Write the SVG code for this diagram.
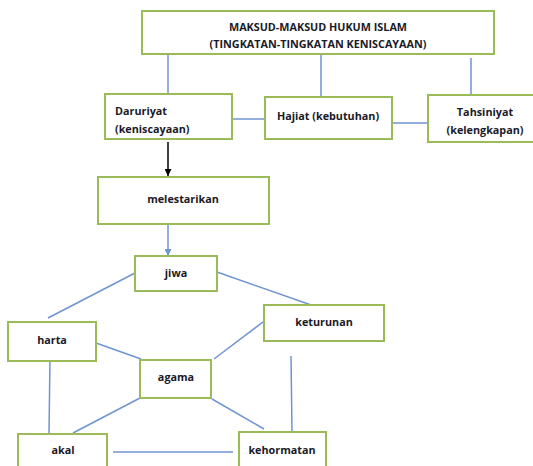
<svg xmlns="http://www.w3.org/2000/svg" width="533" height="466" viewBox="0 0 533 466">
  <defs>
    <style>
      .box { fill: #ffffff; stroke: #9bbb59; stroke-width: 2; }
      .lbl { font-family: "Open Sans", "Liberation Sans", sans-serif; font-size: 10.8px; font-weight: 700; fill: #1a1a28; }
      .mid { text-anchor: middle; }
      .link { stroke: #7094d2; stroke-width: 1.5; fill: none; }
      .down { stroke: #000000; stroke-width: 1.5; fill: none; }
    </style>
    <marker id="headBlack" viewBox="0 0 10 10" refX="10" refY="5" markerWidth="7" markerHeight="7" markerUnits="userSpaceOnUse" orient="auto">
      <path d="M0,0 L10,5 L0,10 Z" fill="#000000"/>
    </marker>
    <marker id="headBlue" viewBox="0 0 10 10" refX="10" refY="5" markerWidth="7" markerHeight="7" markerUnits="userSpaceOnUse" orient="auto">
      <path d="M0,0 L10,5 L0,10 Z" fill="#7094d2"/>
    </marker>
  </defs>
  <rect x="0" y="0" width="533" height="466" fill="#ffffff"/>

  <!-- connectors -->
  <g id="connectors">
    <line class="link" x1="168" y1="54" x2="168" y2="94"/>
    <line class="link" x1="321" y1="54" x2="321" y2="97"/>
    <line class="link" x1="471" y1="58" x2="471" y2="99"/>
    <line class="link" x1="232" y1="119" x2="265" y2="119"/>
    <line class="link" x1="392" y1="123" x2="428" y2="123"/>
    <line class="down" x1="168" y1="142" x2="168" y2="176" marker-end="url(#headBlack)"/>
    <line class="link" x1="168" y1="224" x2="168" y2="256" marker-end="url(#headBlue)"/>
    <line class="link" x1="135" y1="273" x2="48" y2="318"/>
    <line class="link" x1="217" y1="272" x2="314" y2="306"/>
    <line class="link" x1="96" y1="343" x2="141" y2="359"/>
    <line class="link" x1="214" y1="359" x2="267" y2="319"/>
    <line class="link" x1="50" y1="358" x2="49" y2="434"/>
    <line class="link" x1="140" y1="398" x2="73" y2="433"/>
    <line class="link" x1="212" y1="399" x2="264" y2="429"/>
    <line class="link" x1="291" y1="356" x2="292" y2="432"/>
    <line class="link" x1="113" y1="452" x2="233" y2="452"/>
  </g>

  <g id="maksud">
    <rect class="box" x="142" y="11" width="352" height="43"/>
    <text class="lbl mid" x="318" y="31">MAKSUD-MAKSUD HUKUM ISLAM</text>
    <text class="lbl mid" x="318" y="48">(TINGKATAN-TINGKATAN KENISCAYAAN)</text>
  </g>

  <g id="daruriyat">
    <rect class="box" x="105" y="94" width="127" height="45"/>
    <text class="lbl" x="115" y="115">Daruriyat</text>
    <text class="lbl" x="115" y="133">(keniscayaan)</text>
  </g>

  <g id="hajiat">
    <rect class="box" x="265" y="97" width="127" height="42"/>
    <text class="lbl mid" x="328" y="120">Hajiat (kebutuhan)</text>
  </g>

  <g id="tahsiniyat">
    <rect class="box" x="428" y="95" width="110" height="47"/>
    <text class="lbl mid" x="485" y="116">Tahsiniyat</text>
    <text class="lbl mid" x="485" y="134">(kelengkapan)</text>
  </g>

  <g id="melestarikan">
    <rect class="box" x="98" y="177" width="171" height="47"/>
    <text class="lbl mid" x="183" y="203">melestarikan</text>
  </g>

  <g id="jiwa">
    <rect class="box" x="135" y="256" width="82" height="35"/>
    <text class="lbl mid" x="176" y="277">jiwa</text>
  </g>

  <g id="harta">
    <rect class="box" x="8" y="322" width="88" height="39"/>
    <text class="lbl mid" x="52" y="344">harta</text>
  </g>

  <g id="keturunan">
    <rect class="box" x="264" y="305" width="120" height="36"/>
    <text class="lbl mid" x="324" y="326">keturunan</text>
  </g>

  <g id="agama">
    <rect class="box" x="140" y="360" width="71" height="38"/>
    <text class="lbl mid" x="176" y="381">agama</text>
  </g>

  <g id="akal">
    <rect class="box" x="18" y="434" width="89" height="40"/>
    <text class="lbl mid" x="63" y="454">akal</text>
  </g>

  <g id="kehormatan">
    <rect class="box" x="239" y="432" width="87" height="42"/>
    <text class="lbl mid" x="282" y="454">kehormatan</text>
  </g>
</svg>
